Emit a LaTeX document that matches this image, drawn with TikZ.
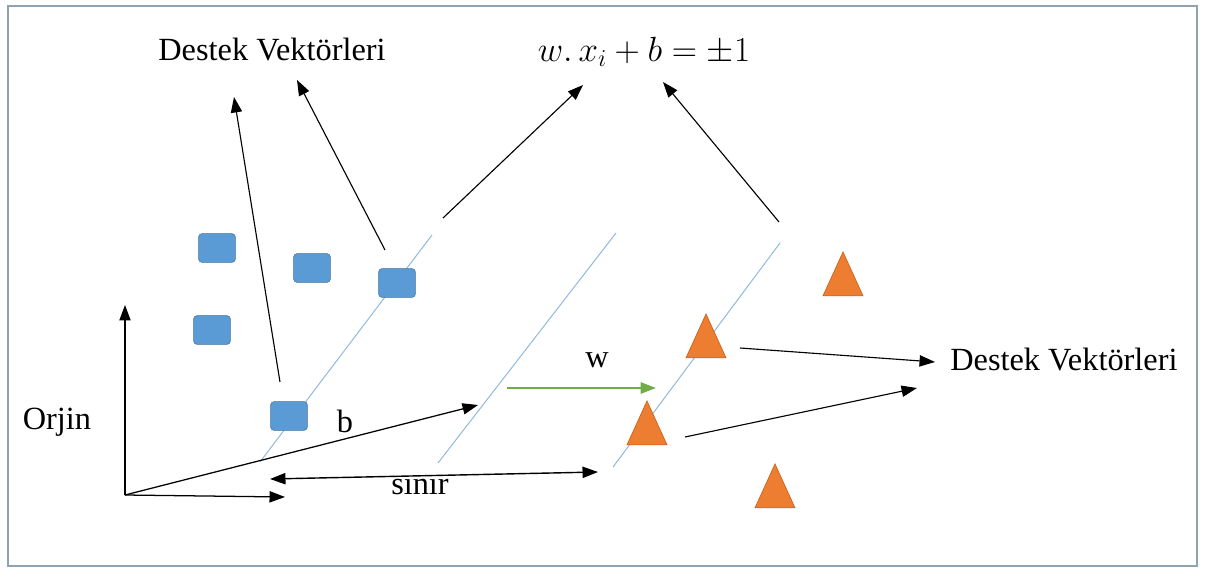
\documentclass[tikz,border=0pt]{standalone}
\usepackage{fontspec}
\setmainfont{Liberation Serif}
\usepackage{xcolor}
\usepackage{tikz}
\usetikzlibrary{positioning,arrows.meta,shapes.geometric}

\definecolor{sqblue}{HTML}{5B9BD5}
\definecolor{sqedge}{HTML}{41719C}
\definecolor{trorange}{HTML}{ED7D31}
\definecolor{tredge}{HTML}{C55A11}
\definecolor{marginblue}{HTML}{8FB8DE}
\definecolor{wgreen}{HTML}{70AD47}
\definecolor{framegray}{HTML}{8FA3B3}

\begin{document}
\begin{tikzpicture}[x=0.025cm,y=-0.025cm,
        lbl/.style={font=\fontsize{23}{27}\selectfont,inner sep=0pt},
        blu/.style={rectangle,rounded corners=2.5pt,draw=sqedge,fill=sqblue,
                    minimum width=0.92cm,minimum height=0.72cm,inner sep=0pt},
        tri/.style={isosceles triangle,isosceles triangle apex angle=49,
                    shape border rotate=90,draw=tredge,fill=trorange,
                    minimum height=1.1cm,inner sep=0pt},
        arr/.style={-{Triangle[length=11pt,width=8pt]},line width=0.9pt},
        edge/.style={marginblue,line width=0.7pt}]
        \useasboundingbox (0,0) rectangle (1205,572);
        \draw[framegray,line width=0.8pt] (8,6) rectangle (1197,566);
        % labels
        \node[lbl] (dvtop) at (272,50) {Destek Vektörleri};
        \node[lbl] (hyp) at (644,52) {$w.\,x_i + b = \pm 1$};
        \node[lbl,anchor=west] (dvright) at (950,360) {Destek Vektörleri};
        \node[lbl] (orjin) at (57,422) {Orjin};
        % margin lines
        \coordinate (m1a) at (260,462); \coordinate (m1b) at (432,235);
        \coordinate (m2a) at (438,463); \coordinate (m2b) at (616,233);
        \coordinate (m3a) at (613,467); \coordinate (m3b) at (780,243);
        \foreach \k in {1,2,3}
          \draw[edge] (m\k a) -- (m\k b);
        % data points
        \foreach \i/\x/\y in {1/217/248,2/312/268,3/212/330,4/397/283,5/289/416}{
          \node[blu] (s\i) at (\x,\y) {};
        }
        \foreach \j/\x/\y in {1/843/283,2/706/345,3/647/432,4/775/495}{
          \node[tri] (t\j) at (\x,\y) {};
        }
        % axes
        \coordinate (o) at (125,495);
        \coordinate (yax) at (125,305);
        \coordinate (xax) at (285,497);
        \draw[arr] (o) -- (yax);
        \draw[arr] (o) -- (xax);
        \coordinate (bend) at (478,405);
        \draw[arr] (o) -- (bend);
        \node[lbl] (blbl) at (345,421) {b};
        % w and margin width
        \coordinate (wa) at (507,388); \coordinate (wb) at (656,388);
        \draw[arr,wgreen,line width=1.6pt] (wa) -- (wb);
        \node[lbl] (wlbl) at (597,360) {w};
        \coordinate (sa) at (270,479); \coordinate (sb) at (598,472);
        \draw[{Triangle[length=11pt,width=8pt]}-{Triangle[length=11pt,width=8pt]},line width=1pt] (sa) -- (sb);
        \node[lbl] (slbl) at (420,487) {sınır};
        % pointers to labels
        \coordinate (p1) at (234,97); \coordinate (p2) at (297,80);
        \coordinate (p3) at (583,85); \coordinate (p4) at (663,82);
        \coordinate (p5) at (935,362); \coordinate (p6) at (917,388);
        \coordinate (q1) at (280,382); \coordinate (q2) at (385,250);
        \coordinate (q3) at (443,218); \coordinate (q4) at (779,222);
        \coordinate (q5) at (740,348); \coordinate (q6) at (685,437);
        \foreach \k in {1,...,6}
          \draw[arr,line width=0.8pt] (q\k) -- (p\k);
      \end{tikzpicture}
\end{document}
